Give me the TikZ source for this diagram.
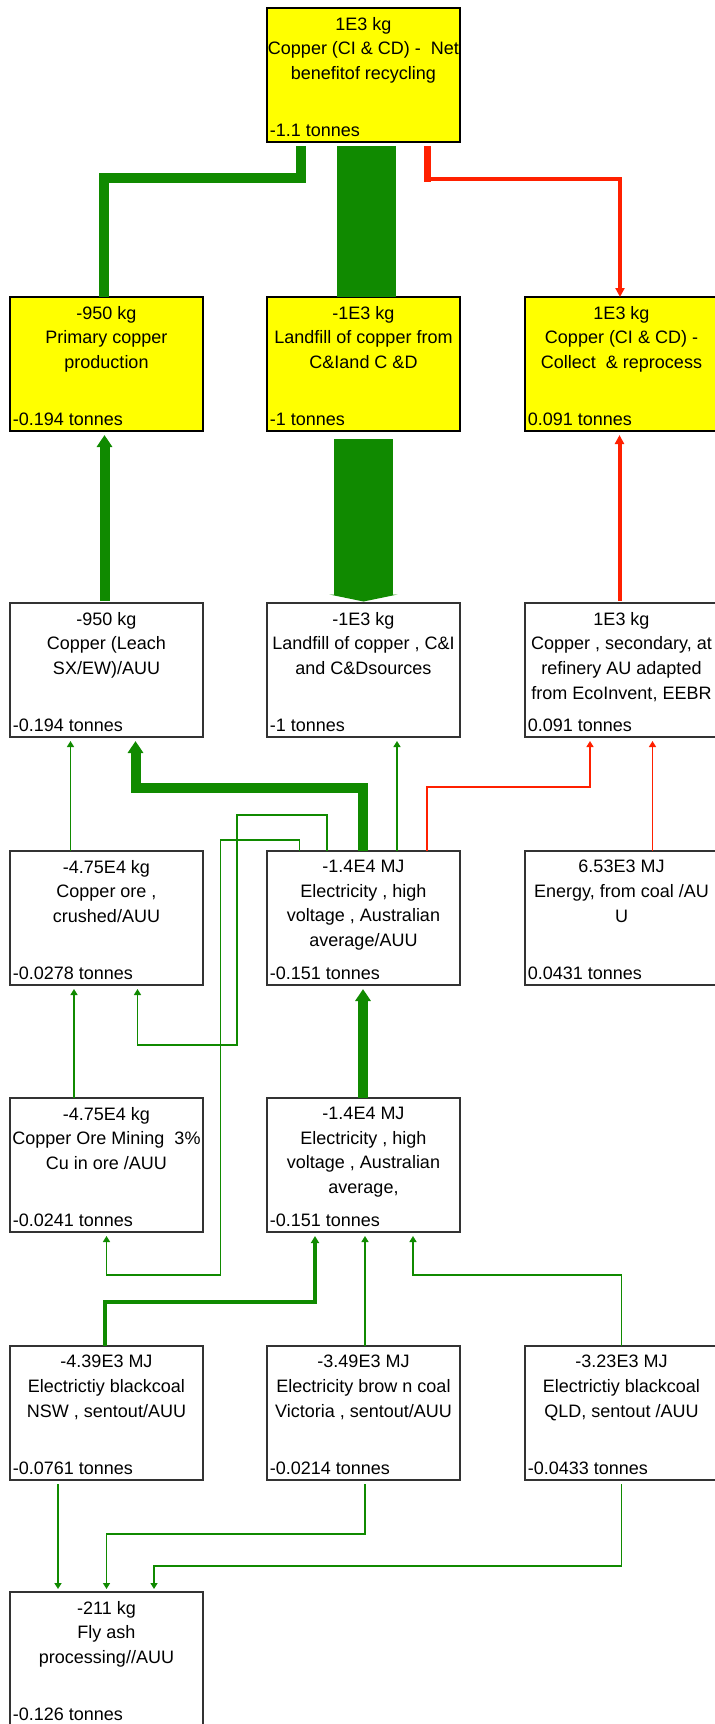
\documentclass[tikz,border=0pt]{standalone}
\usepackage{fontspec}
\setmainfont{Liberation Sans}
\usetikzlibrary{arrows.meta,calc}
\definecolor{flowgreen}{RGB}{16,138,0}
\definecolor{flowred}{RGB}{255,32,0}
\definecolor{procyellow}{RGB}{255,255,0}
\begin{document}
\begin{tikzpicture}[x=0.5pt, y=-0.5pt,
        box/.style={draw=black!80, line width=0.6pt, fill=white, minimum width=96.5pt, minimum height=67pt, inner sep=0pt, outer sep=0pt},
        hot/.style={box, draw=black, fill=procyellow},
        headtext/.style={anchor=north, align=center, inner sep=0pt, yshift=-4.3pt, font=\fontsize{9}{12.4}\selectfont},
        masstext/.style={anchor=base west, inner sep=0pt, xshift=1.2pt, yshift=2.8pt, font=\fontsize{9}{12.4}\selectfont},
        thinflow/.style={flowgreen, line width=0.7pt, -{Triangle[length=3pt,width=3.5pt]}},
        ashflow/.style={thinflow, line width=1pt},
        midflow/.style={flowgreen, line width=2pt, -{Triangle[length=3.5pt,width=4pt]}},
        thickflow/.style={flowgreen, line width=5pt, -{Triangle[length=6pt,width=7.5pt]}},
        redflow/.style={flowred, line width=2pt, -{Triangle[length=4.5pt,width=4.5pt]}},
        thinred/.style={flowred, line width=0.7pt, -{Triangle[length=3pt,width=3.5pt]}}]
        \useasboundingbox (0,0) rectangle (714,1724);

        \node[hot, label={[headtext]north:{1E3 kg\\Copper (CI \& CD) -\ \ Net\\benefitof recycling}}, label={[masstext]south west:{-1.1 tonnes}}] (net) at (363.5,75) {};

        \node[hot, label={[headtext]north:{-950 kg\\Primary copper\\production}}, label={[masstext]south west:{-0.194 tonnes}}] (primary) at (106.5,364) {};
        \node[hot, label={[headtext]north:{-1E3 kg\\Landfill of copper from\\C\&Iand C \&D}}, label={[masstext]south west:{-1 tonnes}}] (landfill) at (363.5,364) {};
        \node[hot, label={[headtext]north:{1E3 kg\\Copper (CI \& CD) -\\Collect\ \ \& reprocess}}, label={[masstext]south west:{0.091 tonnes}}] (collect) at (621.5,364) {};

        \node[box, label={[headtext]north:{-950 kg\\Copper (Leach\\SX/EW)/AUU}}, label={[masstext]south west:{-0.194 tonnes}}] (leach) at (106.5,670) {};
        \node[box, label={[headtext]north:{-1E3 kg\\Landfill of copper , C\&I\\and C\&Dsources}}, label={[masstext]south west:{-1 tonnes}}] (landfillsrc) at (363.5,670) {};
        \node[box, label={[headtext]north:{1E3 kg\\Copper , secondary, at\\refinery AU adapted\\from EcoInvent, EEBR}}, label={[masstext]south west:{0.091 tonnes}}] (secondary) at (621.5,670) {};

        \node[box, label={[headtext]north:{-4.75E4 kg\\Copper ore ,\\crushed/AUU}}, label={[masstext]south west:{-0.0278 tonnes}}] (ore) at (106.5,918) {};
        \node[box, label={[headtext]north:{-1.4E4 MJ\\Electricity , high\\voltage , Australian\\average/AUU}}, label={[masstext]south west:{-0.151 tonnes}}] (elecA) at (363.5,918) {};
        \node[box, label={[headtext]north:{6.53E3 MJ\\Energy, from coal /AU\\U}}, label={[masstext]south west:{0.0431 tonnes}}] (energy) at (621.5,918) {};

        \node[box, label={[headtext]north:{-4.75E4 kg\\Copper Ore Mining\ \ 3\%\\Cu in ore /AUU}}, label={[masstext]south west:{-0.0241 tonnes}}] (mining) at (106.5,1165) {};
        \node[box, label={[headtext]north:{-1.4E4 MJ\\Electricity , high\\voltage , Australian\\average,}}, label={[masstext]south west:{-0.151 tonnes}}] (elecB) at (363.5,1165) {};

        \node[box, label={[headtext]north:{-4.39E3 MJ\\Electrictiy blackcoal\\NSW , sentout/AUU}}, label={[masstext]south west:{-0.0761 tonnes}}] (nsw) at (106.5,1413) {};
        \node[box, label={[headtext]north:{-3.49E3 MJ\\Electricity brow n coal\\Victoria , sentout/AUU}}, label={[masstext]south west:{-0.0214 tonnes}}] (vic) at (363.5,1413) {};
        \node[box, label={[headtext]north:{-3.23E3 MJ\\Electrictiy blackcoal\\QLD, sentout /AUU}}, label={[masstext]south west:{-0.0433 tonnes}}] (qld) at (621.5,1413) {};

        \node[box, label={[headtext]north:{-211 kg\\Fly ash\\processing//AUU}}, label={[masstext]south west:{-0.126 tonnes}}] (flyash) at (106.5,1659) {};

        \draw[flowgreen, line width=5pt] ($(net.south)+(-62.5,4)$) |- ($(primary.north)+(-2.5,-119)$) -- ($(primary.north)+(-2.5,0)$);
        \draw[flowgreen, line width=29.5pt] ($(net.south)+(3,4)$) -- ($(landfill.north)+(3,0)$);
        \draw[flowred, line width=3.5pt] ($(net.south)+(64,4)$) -- ++(0,36);
        \draw[redflow] ($(net.south)+(64,4)$) |- ($(collect.north)+(-1.5,-118.3)$) -- ($(collect.north)+(-1.5,0)$);

        \draw[thickflow] ($(leach.north)+(-2,-2)$) -- ($(primary.south)+(-2,4)$);
        \draw[flowgreen, line width=29.5pt, -{Triangle[length=3.5pt,width=34pt]}] ($(landfill.south)+(0,8)$) -- ($(landfillsrc.north)+(0,-1.5)$);
        \draw[redflow] ($(secondary.north)+(-2,-2)$) -- ($(collect.south)+(-2,4)$);

        \draw[thinflow] ($(ore.north)+(-36,0)$) -- ($(leach.south)+(-36,4)$);
        \draw[thickflow] ($(elecA.north)+(-0.5,0)$) |- ($(leach.south)+(29,51)$) -- ($(leach.south)+(29,4)$);
        \draw[thinflow] ($(elecA.north)+(33.5,0)$) -- ($(landfillsrc.south)+(33.5,4)$);
        \draw[thinred] ($(elecA.north)+(63.5,0)$) |- ($(secondary.south)+(-31.5,50)$) -- ($(secondary.south)+(-31.5,4)$);
        \draw[thinred] ($(energy.north)+(31,0)$) -- ($(secondary.south)+(31,4)$);
        \draw[thinflow] ($(elecA.north)+(-36.5,0)$) |- ($(elecA.north)+(-126.5,-36)$) |- ($(ore.south)+(31,60)$) -- ($(ore.south)+(31,4)$);
        \draw[thinflow] ($(elecA.north)+(-64,0)$) |- ($(elecA.north)+(-143,-11)$) |- ($(mining.south)+(0,43)$) -- ($(mining.south)+(0,4)$);

        \draw[thinflow] ($(mining.north)+(-32.5,0)$) -- ($(ore.south)+(-32.5,4)$);
        \draw[thickflow] ($(elecB.north)+(-0.5,0)$) -- ($(elecA.south)+(-0.5,4)$);

        \draw[midflow] ($(nsw.north)+(-2,0)$) |- ($(elecB.south)+(-48.5,70)$) -- ($(elecB.south)+(-48.5,4)$);
        \draw[thinflow] ($(vic.north)+(1.5,0)$) -- ($(elecB.south)+(1.5,4)$);
        \draw[thinflow] (qld.north) |- ($(elecB.south)+(49.5,43)$) -- ($(elecB.south)+(49.5,4)$);

        \draw[ashflow] ($(nsw.south)+(-48.5,4)$) -- ($(flyash.north)+(-48.5,-3)$);
        \draw[thinflow] ($(vic.south)+(1.5,4)$) |- ($(flyash.north)+(0,-58)$) -- ($(flyash.north)+(0,-3)$);
        \draw[thinflow] ($(qld.south)+(0,4)$) |- ($(flyash.north)+(47.5,-26)$) -- ($(flyash.north)+(47.5,-3)$);
\end{tikzpicture}
\end{document}
